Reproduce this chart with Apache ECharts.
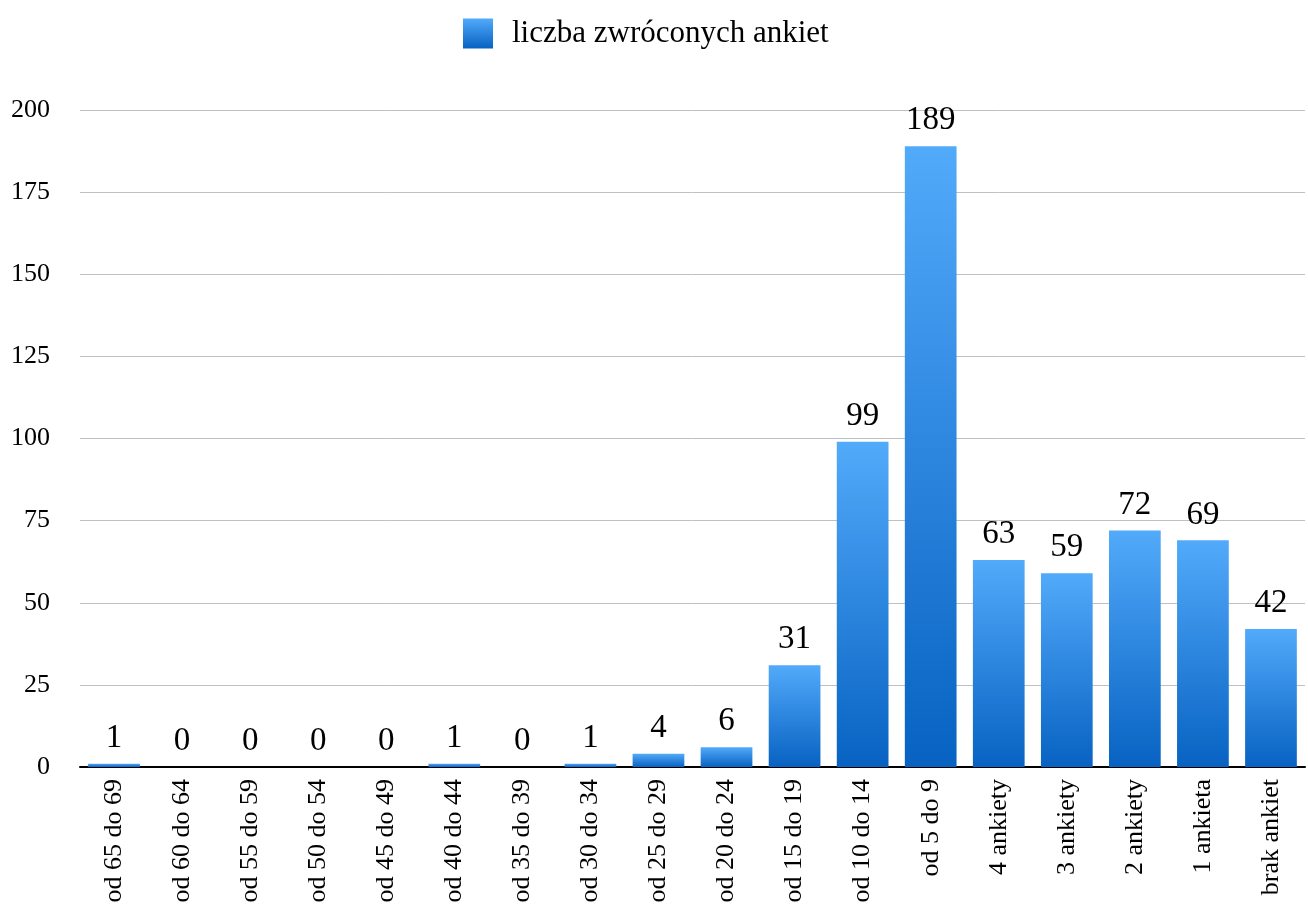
<!DOCTYPE html>
<html>
<head>
<meta charset="utf-8">
<script src="https://cdn.jsdelivr.net/npm/echarts@6/dist/echarts.min.js"></script>
<style>
  html, body { margin: 0; padding: 0; background: #fff; }
  #chart { width: 1308px; height: 907px; }
</style>
</head>
<body>
<div id="chart"></div>
<script>
  // dane
  var categories = ['od 65 do 69', 'od 60 do 64', 'od 55 do 59', 'od 50 do 54', 'od 45 do 49',
    'od 40 do 44', 'od 35 do 39', 'od 30 do 34', 'od 25 do 29', 'od 20 do 24', 'od 15 do 19',
    'od 10 do 14', 'od 5 do 9', '4 ankiety', '3 ankiety', '2 ankiety', '1 ankieta', 'brak ankiet'];
  var values = [1, 0, 0, 0, 0, 1, 0, 1, 4, 6, 31, 99, 189, 63, 59, 72, 69, 42];
  var seriesName = 'liczba zwróconych ankiet';

  var serif = '"Liberation Serif", "DejaVu Serif", serif';
  var barGradient = new echarts.graphic.LinearGradient(0, 0, 0, 1, [
    { offset: 0, color: '#52aafa' },
    { offset: 1, color: '#0762c2' }
  ]);

  var chart = echarts.init(document.getElementById('chart'));
  chart.setOption({
    backgroundColor: '#fff',
    animation: false,
    legend: {
      top: 13,
      left: 458,
      icon: 'rect',
      itemWidth: 30,
      itemHeight: 30,
      itemGap: 20,
      textStyle: { fontFamily: serif, fontSize: 31, color: '#000', padding: [0, 0, 0, 14] },
      data: [seriesName]
    },
    grid: {
      left: 80,
      right: 3,
      top: 110,
      bottom: 140,
      containLabel: false
    },
    xAxis: {
      type: 'category',
      data: categories,
      axisTick: { show: false },
      axisLine: { lineStyle: { color: '#000', width: 2 } },
      axisLabel: {
        rotate: 90,
        interval: 0,
        margin: 12,
        fontFamily: serif,
        fontSize: 26,
        color: '#000'
      }
    },
    yAxis: {
      type: 'value',
      min: 0,
      max: 200,
      interval: 25,
      axisLine: { show: false },
      axisTick: { show: false },
      axisLabel: { margin: 30, fontFamily: serif, fontSize: 26, color: '#000' },
      splitLine: { lineStyle: { color: '#c0c0c0', width: 1 } }
    },
    series: [{
      name: seriesName,
      type: 'bar',
      data: values,
      barWidth: '76%',
      itemStyle: { color: barGradient },
      label: {
        show: true,
        position: 'top',
        distance: 9,
        fontFamily: serif,
        fontSize: 33,
        color: '#000'
      }
    }]
  });
</script>
</body>
</html>
